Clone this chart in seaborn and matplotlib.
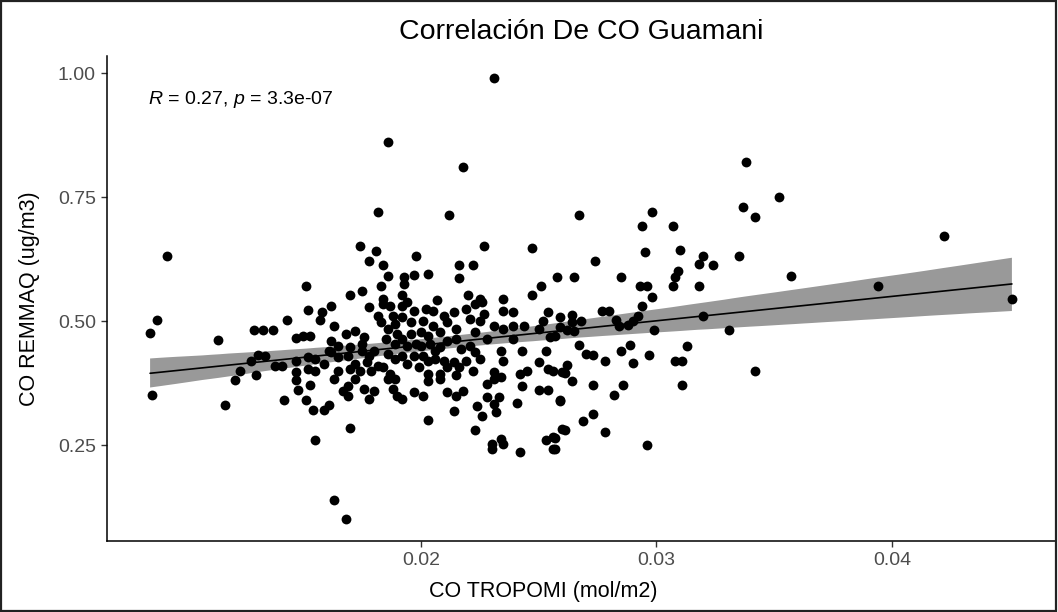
import matplotlib
matplotlib.use("Agg")
import matplotlib.pyplot as plt
import seaborn as sns
import numpy as np
import pandas as pd
from matplotlib.patches import Rectangle

# ---------------- data ----------------
tropomi = [
    0.0085, 0.0088, 0.0086, 0.0092, 0.0114, 0.0117, 0.0121, 0.0123, 0.0128, 0.0129,
    0.0133, 0.0137, 0.0130, 0.0131, 0.0134, 0.0138, 0.0141, 0.0142, 0.0143, 0.0147,
    0.0147, 0.0147, 0.0147, 0.0148, 0.0150, 0.0151, 0.0151, 0.0152, 0.0152, 0.0152,
    0.0153, 0.0153, 0.0154, 0.0155, 0.0155, 0.0155, 0.0157, 0.0158, 0.0159, 0.0159,
    0.0161, 0.0161, 0.0162, 0.0162, 0.0163, 0.0163, 0.0165, 0.0165, 0.0168, 0.0170,
    0.0175, 0.0174, 0.0181, 0.0178, 0.0184, 0.0182, 0.0186, 0.0198, 0.0186, 0.0193,
    0.0197, 0.0203, 0.0193, 0.0183, 0.0192, 0.0184, 0.0207, 0.0216, 0.0222, 0.0216,
    0.0212, 0.0218, 0.0231, 0.0227, 0.0220, 0.0225, 0.0235, 0.0247, 0.0247, 0.0251,
    0.0258, 0.0178, 0.0184, 0.0187, 0.0192, 0.0194, 0.0205, 0.0210, 0.0214, 0.0219,
    0.0223, 0.0226, 0.0227, 0.0221, 0.0225, 0.0235, 0.0239, 0.0254, 0.0252, 0.0259,
    0.0182, 0.0183, 0.0188, 0.0192, 0.0196, 0.0201, 0.0205, 0.0211, 0.0168, 0.0172,
    0.0176, 0.0175, 0.0190, 0.0192, 0.0196, 0.0200, 0.0203, 0.0208, 0.0189, 0.0194,
    0.0200, 0.0204, 0.0208, 0.0215, 0.0223, 0.0231, 0.0235, 0.0239, 0.0244, 0.0239,
    0.0250, 0.0255, 0.0259, 0.0221, 0.0223, 0.0234, 0.0235, 0.0243, 0.0253, 0.0250,
    0.0180, 0.0178, 0.0175, 0.0170, 0.0162, 0.0165, 0.0169, 0.0172, 0.0177, 0.0182,
    0.0170, 0.0174, 0.0179, 0.0184, 0.0189, 0.0186, 0.0192, 0.0197, 0.0201, 0.0203,
    0.0206, 0.0210, 0.0214, 0.0219, 0.0216, 0.0211, 0.0222, 0.0203, 0.0208, 0.0215,
    0.0231, 0.0234, 0.0242, 0.0245, 0.0254, 0.0256, 0.0260, 0.0187, 0.0189, 0.0186,
    0.0172, 0.0169, 0.0163, 0.0203, 0.0208, 0.0228, 0.0231, 0.0243, 0.0167, 0.0176,
    0.0180, 0.0188, 0.0190, 0.0192, 0.0197, 0.0201, 0.0211, 0.0215, 0.0218, 0.0169,
    0.0178, 0.0228, 0.0233, 0.0231, 0.0224, 0.0232, 0.0226, 0.0214, 0.0241, 0.0250,
    0.0254, 0.0259, 0.0203, 0.0170, 0.0223, 0.0230, 0.0230, 0.0234, 0.0235, 0.0242,
    0.0253, 0.0256, 0.0256, 0.0260, 0.0338, 0.0352, 0.0337, 0.0342, 0.0267, 0.0298,
    0.0294, 0.0307, 0.0295, 0.0310, 0.0274, 0.0320, 0.0318, 0.0324, 0.0335, 0.0309,
    0.0308, 0.0265, 0.0285, 0.0293, 0.0296, 0.0307, 0.0318, 0.0298, 0.0357, 0.0422,
    0.0394, 0.0451, 0.0264, 0.0264, 0.0268, 0.0277, 0.0280, 0.0294, 0.0292, 0.0283,
    0.0284, 0.0288, 0.0290, 0.0262, 0.0265, 0.0257, 0.0299, 0.0320, 0.0331, 0.0267,
    0.0270, 0.0273, 0.0278, 0.0285, 0.0289, 0.0290, 0.0297, 0.0313, 0.0308, 0.0311,
    0.0262, 0.0261, 0.0264, 0.0273, 0.0286, 0.0282, 0.0311, 0.0342, 0.0259, 0.0273,
    0.0269, 0.0261, 0.0278, 0.0257, 0.0257, 0.0296,
    0.0198, 0.0206, 0.0194, 0.0199, 0.0211, 0.0202, 0.0189, 0.0197, 0.0185, 0.0186,
    0.0215, 0.0217, 0.0228, 0.0225,
]

remmaq = [
    0.476, 0.502, 0.351, 0.631, 0.462, 0.331, 0.381, 0.399, 0.419, 0.482,
    0.482, 0.482, 0.391, 0.431, 0.429, 0.409, 0.409, 0.341, 0.502, 0.397,
    0.381, 0.419, 0.466, 0.361, 0.470, 0.571, 0.341, 0.522, 0.427, 0.403,
    0.470, 0.371, 0.321, 0.423, 0.399, 0.260, 0.502, 0.518, 0.321, 0.413,
    0.440, 0.331, 0.530, 0.460, 0.139, 0.490, 0.450, 0.399, 0.101, 0.552,
    0.560, 0.651, 0.641, 0.621, 0.613, 0.720, 0.861, 0.631, 0.591, 0.589,
    0.593, 0.595, 0.575, 0.571, 0.552, 0.544, 0.542, 0.613, 0.613, 0.587,
    0.714, 0.810, 0.990, 0.651, 0.552, 0.544, 0.544, 0.552, 0.647, 0.571,
    0.589, 0.528, 0.534, 0.530, 0.530, 0.538, 0.520, 0.510, 0.518, 0.524,
    0.534, 0.538, 0.514, 0.504, 0.500, 0.520, 0.518, 0.518, 0.500, 0.508,
    0.510, 0.498, 0.510, 0.508, 0.498, 0.500, 0.490, 0.498, 0.474, 0.480,
    0.468, 0.454, 0.474, 0.464, 0.474, 0.478, 0.470, 0.478, 0.454, 0.450,
    0.450, 0.454, 0.448, 0.464, 0.478, 0.490, 0.484, 0.490, 0.490, 0.464,
    0.484, 0.468, 0.488, 0.450, 0.437, 0.440, 0.419, 0.440, 0.440, 0.417,
    0.440, 0.429, 0.440, 0.448, 0.437, 0.427, 0.429, 0.413, 0.417, 0.409,
    0.403, 0.399, 0.399, 0.407, 0.423, 0.433, 0.429, 0.429, 0.429, 0.419,
    0.423, 0.419, 0.417, 0.419, 0.407, 0.407, 0.399, 0.393, 0.393, 0.391,
    0.397, 0.387, 0.393, 0.399, 0.403, 0.399, 0.397, 0.393, 0.383, 0.383,
    0.383, 0.369, 0.383, 0.379, 0.383, 0.373, 0.383, 0.369, 0.359, 0.363,
    0.359, 0.363, 0.349, 0.343, 0.357, 0.349, 0.357, 0.349, 0.359, 0.349,
    0.343, 0.347, 0.347, 0.333, 0.329, 0.317, 0.308, 0.319, 0.335, 0.361,
    0.361, 0.339, 0.300, 0.284, 0.280, 0.252, 0.242, 0.262, 0.252, 0.236,
    0.260, 0.266, 0.242, 0.282, 0.821, 0.750, 0.730, 0.710, 0.714, 0.720,
    0.692, 0.692, 0.639, 0.643, 0.621, 0.631, 0.615, 0.613, 0.631, 0.601,
    0.589, 0.589, 0.589, 0.571, 0.571, 0.571, 0.571, 0.548, 0.591, 0.671,
    0.571, 0.544, 0.512, 0.498, 0.500, 0.520, 0.520, 0.530, 0.510, 0.502,
    0.490, 0.492, 0.500, 0.482, 0.480, 0.470, 0.482, 0.510, 0.482, 0.452,
    0.433, 0.431, 0.419, 0.440, 0.452, 0.415, 0.431, 0.450, 0.419, 0.419,
    0.411, 0.395, 0.379, 0.371, 0.371, 0.351, 0.371, 0.399, 0.341, 0.312,
    0.298, 0.280, 0.276, 0.264, 0.242, 0.250,
    0.454, 0.440, 0.413, 0.407, 0.460, 0.524, 0.494, 0.520, 0.464, 0.484,
    0.484, 0.444, 0.464, 0.423,
]

title_text = "Correlación De CO Guamani"
x_label = "CO TROPOMI (mol/m2)"
y_label = "CO REMMAQ (ug/m3)"
stat_label = r"$\mathit{R}$ = 0.27, $\mathit{p}$ = 3.3e-07"
x_ticks = [0.02, 0.03, 0.04]
y_ticks = [0.25, 0.50, 0.75, 1.00]

df = pd.DataFrame({"tropomi": tropomi, "remmaq": remmaq})

# ---------------- style ----------------
sns.set_theme(style="white")
plt.rcParams["font.family"] = ["Liberation Sans", "DejaVu Sans"]
plt.rcParams["mathtext.fontset"] = "custom"
plt.rcParams["mathtext.rm"] = "Liberation Sans"
plt.rcParams["mathtext.it"] = "Liberation Sans:italic"

W, H = 1058, 612
fig = plt.figure(figsize=(W / 100, H / 100), dpi=100)
fig.patch.set_facecolor("white")

left, right, bottom, top = 107, 1055, 541, 56
ax = fig.add_axes([left / W, 1 - bottom / H, (right - left) / W, (bottom - top) / H])
ax.set_facecolor("white")

sns.regplot(
    data=df, x="tropomi", y="remmaq", ax=ax, ci=95, n_boot=2000, seed=7,
    scatter_kws=dict(s=50, color="black", linewidths=0, alpha=1, zorder=2),
    line_kws=dict(color="black", linewidth=1.2, zorder=4),
)
# confidence band: dark translucent fill drawn above the points
for coll in ax.collections:
    if coll.__class__.__name__ != "PathCollection":
        coll.set_facecolor("black")
        coll.set_alpha(0.4)
        coll.set_edgecolor("none")
        coll.set_zorder(3)

xr = max(tropomi) - min(tropomi)
yr = max(remmaq) - min(remmaq)
ax.set_xlim(min(tropomi) - 0.05 * xr, max(tropomi) + 0.05 * xr)
ax.set_ylim(min(remmaq) - 0.05 * yr, max(remmaq) + 0.05 * yr)

ax.set_xticks(x_ticks)
ax.set_xticklabels([f"{v:.2f}" for v in x_ticks])
ax.set_yticks(y_ticks)
ax.set_yticklabels([f"{v:.2f}" for v in y_ticks])
ax.tick_params(axis="both", which="major", direction="out", length=4, width=1,
               color="#333333", labelcolor="#4d4d4d", labelsize=14, pad=4,
               bottom=True, left=True)

for side in ["top", "right"]:
    ax.spines[side].set_visible(False)
for side in ["left", "bottom"]:
    ax.spines[side].set_visible(True)
    ax.spines[side].set_color("black")
    ax.spines[side].set_linewidth(1.1)
ax.grid(False)
ax.set_xlabel("")
ax.set_ylabel("")

ax.text((148 - left) / (right - left), (bottom - 104) / (bottom - top), stat_label,
        transform=ax.transAxes, ha="left", va="baseline", fontsize=14, color="black")

cx = (left + right) / 2 / W
fig.text(cx, 1 - 32 / H, title_text, ha="center", va="center", fontsize=20.5, color="black")
fig.text(543 / W, 1 - 592 / H, x_label, ha="center", va="center", fontsize=15.5, color="black")
fig.text(30 / W, 1 - ((top + bottom) / 2) / H, y_label, ha="center", va="center",
         rotation=90, fontsize=15.5, color="black")

fig.patches.append(Rectangle((0.001, 0.002), 0.997, 0.996, transform=fig.transFigure,
                             fill=False, edgecolor="#222222", linewidth=1.6))

fig.savefig("out.png", dpi=100, facecolor="white")
